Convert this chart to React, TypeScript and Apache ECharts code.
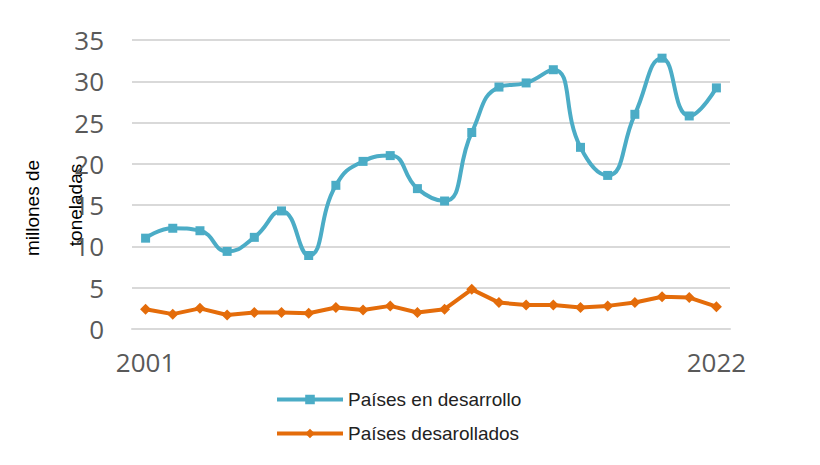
import React, { useEffect, useRef } from "react";
import * as echarts from "echarts";

const years = ["2001","2002","2003","2004","2005","2006","2007","2008","2009","2010","2011","2012","2013","2014","2015","2016","2017","2018","2019","2020","2021","2022"];
const enDesarrollo = [11.0, 12.2, 11.9, 9.4, 11.1, 14.3, 8.9, 17.4, 20.3, 21.0, 17.0, 15.5, 23.8, 29.3, 29.8, 31.4, 22.0, 18.6, 26.0, 32.8, 25.8, 29.2];
const desarrollados = [2.4, 1.8, 2.5, 1.7, 2.0, 2.0, 1.9, 2.6, 2.3, 2.8, 2.0, 2.4, 4.8, 3.2, 2.9, 2.9, 2.6, 2.8, 3.2, 3.9, 3.8, 2.7];
const seriesNames = ["Países en desarrollo", "Países desarollados"];
const yTitle = ["millones de", "toneladas"];

export default function App() {
  const ref = useRef<HTMLDivElement>(null);
  useEffect(() => {
    const chart = echarts.init(ref.current!, null, { renderer: "svg" });
    const font = "'Open Sans', 'Liberation Sans', sans-serif";
    const font2 = "'Liberation Sans', Arial, sans-serif";
    chart.setOption({
      animation: false,
      textStyle: { fontFamily: font },
      grid: { left: 132, right: 90, top: 40, bottom: 136 },
      legend: {
        orient: "vertical",
        left: 270,
        top: 385,
        itemWidth: 66,
        itemHeight: 12,
        itemGap: 15,
        lineStyle: { width: 4 },
        textStyle: { fontSize: 19, color: "#222", fontFamily: font2 },
        data: seriesNames,
      },
      xAxis: {
        type: "category",
        data: years,
        boundaryGap: true,
        axisLine: { show: true, lineStyle: { color: "#d9d9d9", width: 2 } },
        axisTick: { show: false },
        axisLabel: {
          interval: (i: number) => i === 0 || i === years.length - 1,
          fontSize: 26,
          color: "#595959",
          margin: 20,
          fontFamily: font,
        },
      },
      yAxis: {
        type: "value",
        min: 0,
        max: 35,
        interval: 5,
        axisLine: { show: false },
        axisTick: { show: false },
        splitLine: { lineStyle: { color: "#d9d9d9", width: 2 } },
        axisLabel: { fontSize: 26, color: "#595959", margin: 28, fontFamily: font },
      },
      graphic: [
        {
          type: "text",
          x: 32,
          y: 208,
          rotation: Math.PI / 2,
          style: { text: yTitle[0], fontSize: 19, fill: "#000", align: "center", verticalAlign: "middle", fontFamily: font2 },
        },
        {
          type: "text",
          x: 75,
          y: 205,
          rotation: Math.PI / 2,
          style: { text: yTitle[1], fontSize: 19, fill: "#000", align: "center", verticalAlign: "middle", fontFamily: font2 },
        },
      ],
      series: [
        {
          name: seriesNames[0],
          type: "line",
          data: enDesarrollo,
          smooth: 0.5,
          symbol: "rect",
          symbolSize: 9,
          lineStyle: { width: 4, color: "#4bacc6" },
          itemStyle: { color: "#4bacc6" },
        },
        {
          name: seriesNames[1],
          type: "line",
          data: desarrollados,
          smooth: false,
          symbol: "diamond",
          symbolSize: 11,
          lineStyle: { width: 4, color: "#e46c0a" },
          itemStyle: { color: "#e46c0a" },
        },
      ],
    });
    return () => chart.dispose();
  }, []);
  return <div ref={ref} style={{ width: 820, height: 465, position: "absolute", left: 0, top: 0 }} />;
}
